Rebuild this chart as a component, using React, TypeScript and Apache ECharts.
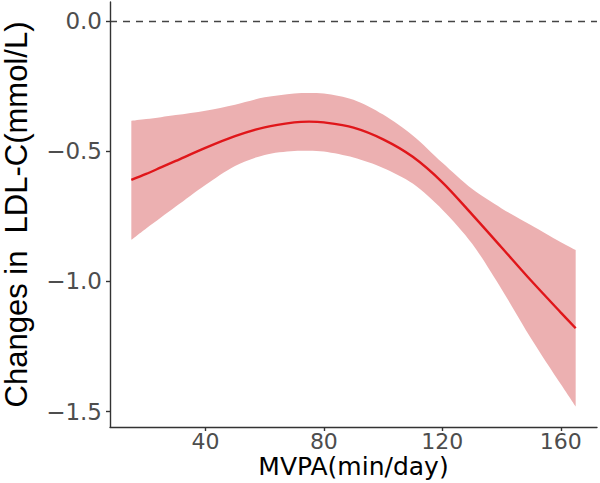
import React, { useEffect, useRef } from "react";
import * as echarts from "echarts";

const mvpa = [15, 20, 25, 30, 40, 50, 60, 70, 75, 80, 90, 100, 110, 120, 130, 140, 150, 160, 165];
const fitValues = [-0.611, -0.588, -0.563, -0.538, -0.488, -0.443, -0.409, -0.39, -0.387, -0.39, -0.41, -0.455, -0.522, -0.62, -0.743, -0.87, -0.998, -1.12, -1.18];
const upperValues = [-0.384, -0.377, -0.37, -0.362, -0.345, -0.322, -0.294, -0.279, -0.277, -0.279, -0.303, -0.36, -0.44, -0.545, -0.645, -0.72, -0.785, -0.85, -0.88];
const lowerValues = [-0.841, -0.797, -0.755, -0.713, -0.63, -0.557, -0.515, -0.5, -0.499, -0.502, -0.525, -0.565, -0.625, -0.725, -0.855, -1.03, -1.22, -1.395, -1.48];
const xTicks = [40, 80, 120, 160];
const yTicks = [0, -0.5, -1.0, -1.5];

export default function App() {
  const ref = useRef<HTMLDivElement>(null);
  useEffect(() => {
    if (!ref.current) return;
    const chart = echarts.init(ref.current, null, { renderer: "svg" });
    const axisLine = { show: true, onZero: false, lineStyle: { color: "#333333", width: 1.4 } };
    const axisTickBase = { show: true, length: 4, lineStyle: { color: "#333333", width: 1.4 } };
    chart.setOption({
      animation: false,
      backgroundColor: "#ffffff",
      grid: { left: 110, right: 3, top: 2, bottom: 56, containLabel: false, outerBoundsMode: "none" },
      xAxis: {
        type: "value",
        min: 7.8,
        max: 172.2,
        z: 10,
        name: "MVPA(min/day)",
        nameLocation: "middle",
        nameGap: 27,
        nameMoveOverlap: false,
        nameTextStyle: { fontFamily: "DejaVu Sans", fontSize: 25, lineHeight: 24, color: "#000000" },
        axisLine,
        axisTick: { ...axisTickBase, customValues: xTicks },
        splitLine: { show: false },
        axisLabel: {
          customValues: xTicks,
          margin: 4,
          lineHeight: 20,
          fontFamily: "DejaVu Sans",
          fontSize: 22,
          color: "#4d4d4d",
          formatter: (v: number) => String(v),
        },
      },
      yAxis: {
        type: "value",
        min: -1.559,
        max: 0.072,
        z: 10,
        name: "Changes in  LDL-C(mmol/L)",
        nameLocation: "middle",
        nameGap: 78,
        nameRotate: 90,
        nameTextStyle: { fontFamily: "Liberation Sans", fontSize: 31, lineHeight: 32, color: "#000000" },
        axisLine,
        axisTick: { ...axisTickBase, customValues: yTicks },
        splitLine: { show: false },
        axisLabel: {
          customValues: yTicks,
          margin: 8,
          fontFamily: "DejaVu Sans",
          fontSize: 23,
          color: "#4d4d4d",
          formatter: (v: number) => (v < 0 ? "\u2212" : "") + Math.abs(v).toFixed(1),
        },
      },
      series: [
        {
          type: "line",
          name: "lower",
          data: mvpa.map((x, i) => [lowerValues[i], x]),
          encode: { x: 1, y: 0 },
          stack: "ci",
          stackStrategy: "all",
          symbol: "none",
          smooth: 0.3,
          lineStyle: { width: 0, opacity: 0 },
          silent: true,
          z: 1,
        },
        {
          type: "line",
          name: "band",
          data: mvpa.map((x, i) => [upperValues[i] - lowerValues[i], x]),
          encode: { x: 1, y: 0 },
          stack: "ci",
          stackStrategy: "all",
          symbol: "none",
          smooth: 0.3,
          lineStyle: { width: 0, opacity: 0 },
          areaStyle: { color: "#ecb0b1", opacity: 1 },
          silent: true,
          z: 1,
        },
        {
          type: "line",
          name: "fit",
          data: mvpa.map((x, i) => [x, fitValues[i]]),
          symbol: "none",
          smooth: 0.3,
          lineStyle: { color: "#e0161a", width: 2.4 },
          z: 3,
          markLine: {
            silent: true,
            symbol: "none",
            label: { show: false },
            lineStyle: { color: "#444444", width: 1.3, type: [7, 6] },
            data: [{ yAxis: 0 }],
          },
        },
      ],
    });
    return () => chart.dispose();
  }, []);
  return <div ref={ref} style={{ width: 600, height: 483, position: "absolute", left: 0, top: 0 }} />;
}
